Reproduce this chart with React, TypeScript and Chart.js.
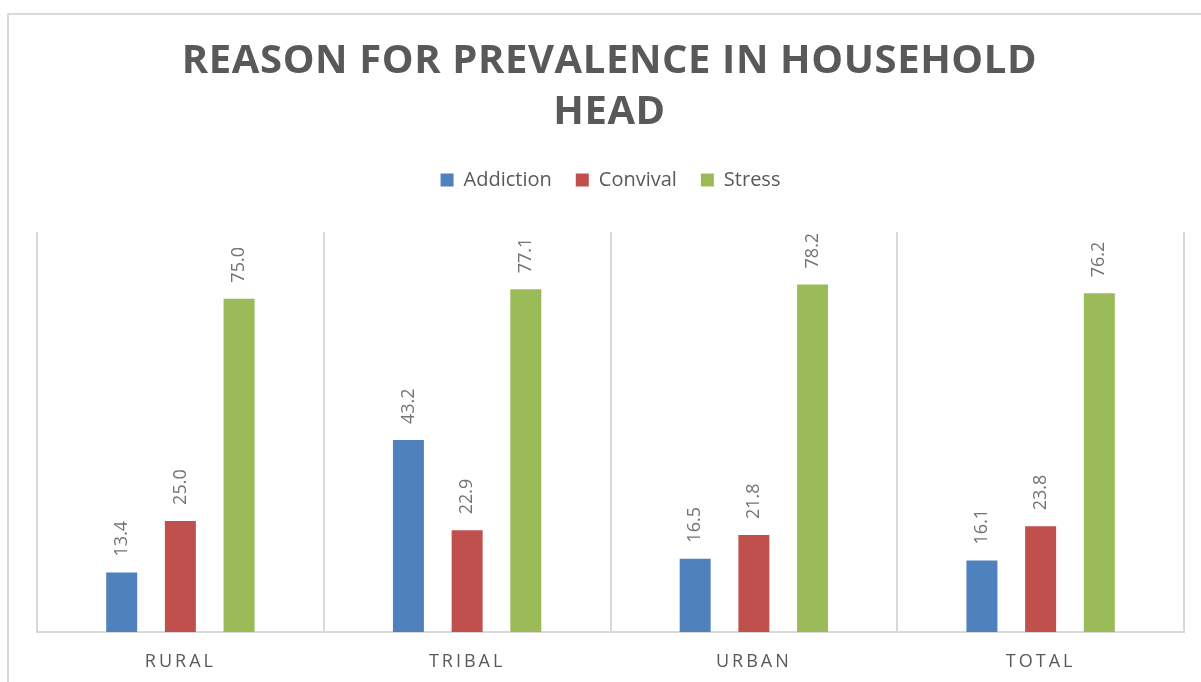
import React, { useEffect, useRef } from "react";
import { Chart, registerables } from "chart.js";

Chart.register(...registerables);

const categories = ["RURAL", "TRIBAL", "URBAN", "TOTAL"];
const addiction = [13.4, 43.2, 16.5, 16.1];
const convival = [25.0, 22.9, 21.8, 23.8];
const stress = [75.0, 77.1, 78.2, 76.2];
const seriesNames = ["Addiction", "Convival", "Stress"];
const seriesColors = ["#4F81BD", "#C0504D", "#9BBB59"];
const titleLines = ["REASON FOR PREVALENCE IN HOUSEHOLD", "HEAD"];

const FONT = "'Open Sans', sans-serif";

const dataLabelPlugin = {
  id: "dataLabels",
  afterDatasetsDraw(chart: any) {
    const ctx = chart.ctx;
    ctx.save();
    ctx.font = `18px ${FONT}`;
    ctx.fillStyle = "#737373";
    ctx.textAlign = "left";
    ctx.textBaseline = "middle";
    chart.data.datasets.forEach((ds: any, di: number) => {
      const meta = chart.getDatasetMeta(di);
      meta.data.forEach((bar: any, i: number) => {
        const v = ds.data[i];
        ctx.save();
        ctx.translate(bar.x, bar.y - 16);
        ctx.rotate(-Math.PI / 2);
        ctx.fillText(Number(v).toFixed(1), 0, 0);
        ctx.restore();
      });
    });
    ctx.restore();
    // letter spacing for the category labels drawn next (ticks z = 1)
    (ctx as any).letterSpacing = "3px";
  },
  afterDraw(chart: any) {
    (chart.ctx as any).letterSpacing = "0px";
  },
};

export default function App() {
  const ref = useRef<HTMLCanvasElement | null>(null);

  useEffect(() => {
    if (!ref.current) return;
    const datasets = [addiction, convival, stress].map((d, i) => ({
      label: seriesNames[i],
      data: d,
      backgroundColor: seriesColors[i],
      borderWidth: 0,
      barPercentage: 0.528,
      categoryPercentage: 0.614,
    }));
    const chart = new Chart(ref.current, {
      type: "bar",
      data: { labels: categories, datasets },
      options: {
        responsive: false,
        animation: false,
        layout: { padding: { top: 146, left: 37, right: 17, bottom: 0 } },
        plugins: {
          legend: {
            position: "top",
            labels: {
              boxWidth: 13,
              boxHeight: 13,
              padding: 24,
              color: "#595959",
              font: { family: FONT, size: 20 },
            },
          },
          subtitle: {
            display: true,
            text: "",
            weight: 500,
            font: { size: 10 },
            padding: { top: 0, bottom: 20 },
          } as any,
          tooltip: { enabled: false },
        },
        scales: {
          x: {
            afterFit: (s: any) => {
              s.height = 50;
            },
            grid: {
              display: true,
              offset: true,
              color: "#d9d9d9",
              lineWidth: 2,
              drawTicks: false,
            },
            border: { display: true, color: "#d9d9d9", width: 2 },
            ticks: {
              z: 1,
              padding: 19,
              color: "#595959",
              font: { family: FONT, size: 18 },
            },
          },
          y: {
            display: false,
            min: 0,
            max: 90,
          },
        },
      },
      plugins: [dataLabelPlugin],
    });
    return () => chart.destroy();
  }, []);

  return (
    <div style={{ position: "fixed", left: 0, top: 0, width: 1201, height: 682, overflow: "hidden", background: "#fff" }}>
      <div
        style={{
          position: "absolute",
          left: 7,
          top: 13,
          width: 1400,
          height: 900,
          border: "2px solid #d9d9d9",
        }}
      />
      <canvas ref={ref} width={1201} height={682} style={{ position: "absolute", left: 0, top: 0, display: "block" }} />
      <div
        style={{
          position: "absolute",
          left: 9,
          top: 32,
          width: 1201,
          textAlign: "center",
          fontFamily: FONT,
          fontWeight: 700,
          fontSize: 40,
          lineHeight: "51px",
          letterSpacing: "0.6px",
          color: "#595959",
        }}
      >
        {titleLines.map((t, i) => (
          <div key={i}>{t}</div>
        ))}
      </div>
    </div>
  );
}
